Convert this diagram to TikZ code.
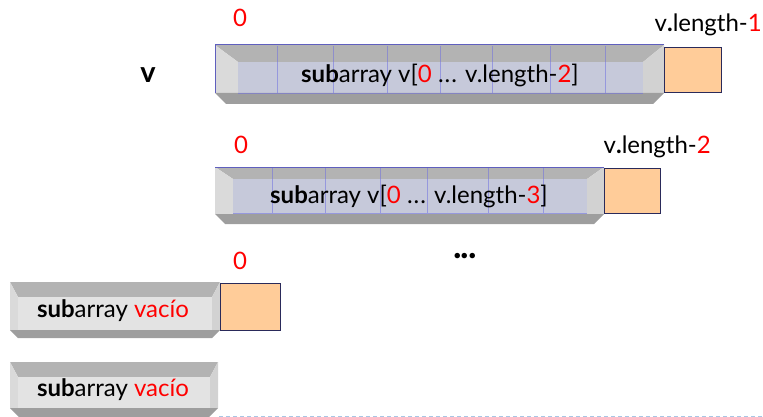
\documentclass[tikz,border=0pt]{standalone}
\usepackage{fontspec}
\setmainfont{Lato}
\definecolor{peach}{HTML}{FFCC99}
\definecolor{peachline}{HTML}{2A2A5A}
\definecolor{gridblue}{HTML}{7070E0}
\definecolor{facearray}{HTML}{C6C9DA}
\definecolor{faceempty}{HTML}{E3E3E3}
\definecolor{bandtopc}{HTML}{B3B3B3}
\definecolor{bandleftc}{HTML}{DADADA}
\definecolor{bandrightc}{HTML}{D2D2D2}
\definecolor{bandbotc}{HTML}{9E9E9E}
\definecolor{floorblue}{HTML}{A9C6E4}

% Bar with bevelled edges and a darker underside:
% #1,#2 outer top-left; #3,#4 outer right / face bottom;
% #5 left, #6 top, #7 right inset; #8 underside depth; #9 face colour
\newcommand\bevelbar[9]{%
  \fill[bandtopc] (#1,#2) -- (#3,#2) -- ({#3-#7},{#2+#6}) -- ({#1+#5},{#2+#6}) -- cycle;
  \fill[bandleftc] (#1,#2) -- ({#1+#5},{#2+#6}) -- ({#1+#5},#4) -- (#1,#4) -- cycle;
  \fill[bandrightc] (#3,#2) -- ({#3-#7},{#2+#6}) -- ({#3-#7},#4) -- (#3,#4) -- cycle;
  \fill[#9] ({#1+#5},{#2+#6}) rectangle ({#3-#7},#4);
  \fill[bandbotc] (#1,#4) -- (#3,#4) -- ({#3-#8},{#4+#8}) -- ({#1+#8},{#4+#8}) -- cycle;
}

\tikzset{
  lbl/.style={inner sep=0pt, font=\fontsize{24}{28}\selectfont},
  cell/.style={draw=peachline, fill=peach, line width=0.8pt},
  grid/.style={draw=gridblue, line width=0.6pt, opacity=0.55},
  edge/.style={draw=gridblue!85!black, line width=1pt}
}
\newcommand\red[1]{\textcolor{red}{#1}}

\begin{document}
\begin{tikzpicture}[x=1pt,y=-1pt]
\useasboundingbox (0,0) rectangle (763,417);

% ---- full array v ----
\bevelbar{215}{45}{664}{93}{23}{17}{21}{11}{facearray}
\foreach \gx in {277,333,387,440,492,550,605}
  \draw[grid] (\gx,46) -- (\gx,93);
\draw[grid] (238,93) -- (643,93);
\draw[edge] (215,93) -- (215,45) -- (664,45);
\node[cell, minimum width=57pt, minimum height=45pt, anchor=north west] (lastA) at (664,47) {};
\node[lbl] (barA) at (440,75) {\textbf{sub}array v[\red{0} .\kern1pt.\kern1pt. v.length-\red{2}]};
\node[lbl, font=\fontsize{29}{32}\selectfont\bfseries] (vname) at (148,75) {v};
\node[lbl] (zeroA) at (240,18) {\red{0}};
\node[lbl, anchor=east] (lenA) at (762,25) {v\textbf{.}length-\red{1}};

% ---- second level ----
\bevelbar{215}{167}{604}{214}{18}{12}{17}{10}{facearray}
\foreach \gx in {272,325,380,427,488,543}
  \draw[grid] (\gx,168) -- (\gx,213);
\draw[grid] (233,213) -- (587,213);
\draw[edge] (215,167) -- (604,167);
\node[cell, minimum width=56pt, minimum height=45pt, anchor=north west] (lastB) at (604,168) {};
\node[lbl] (barB) at (409,196) {\textbf{sub}array v[\red{0} .\kern1pt.\kern1pt. v.length-\red{3}]};
\node[lbl] (zeroB) at (241,145) {\red{0}};
\node[lbl, anchor=east] (lenB) at (711,147) {v\textbf{.}length-\red{2}};

\node[lbl, font=\fontsize{36}{40}\selectfont\bfseries] (dots) at (465,256) {.\kern-1pt.\kern-1pt.};

% ---- one element left ----
\bevelbar{10}{282}{220}{330}{8}{15}{8}{8}{faceempty}
\node[cell, minimum width=60pt, minimum height=47pt, anchor=north west] (lastC) at (220,283) {};
\node[lbl] (barC) at (113,311) {\textbf{sub}array \red{vacío}};
\node[lbl] (zeroC) at (240,261) {\red{0}};

% ---- empty array ----
\bevelbar{10}{362}{218}{408}{8}{15}{8}{9}{faceempty}
\node[lbl] (barD) at (113,390) {\textbf{sub}array \red{vacío}};

\coordinate (floorL) at (219,416);
\coordinate (floorR) at (763,416);
\draw[draw=floorblue, line width=1pt, dash pattern=on 4pt off 3pt] (floorL) -- (floorR);
\end{tikzpicture}
\end{document}
